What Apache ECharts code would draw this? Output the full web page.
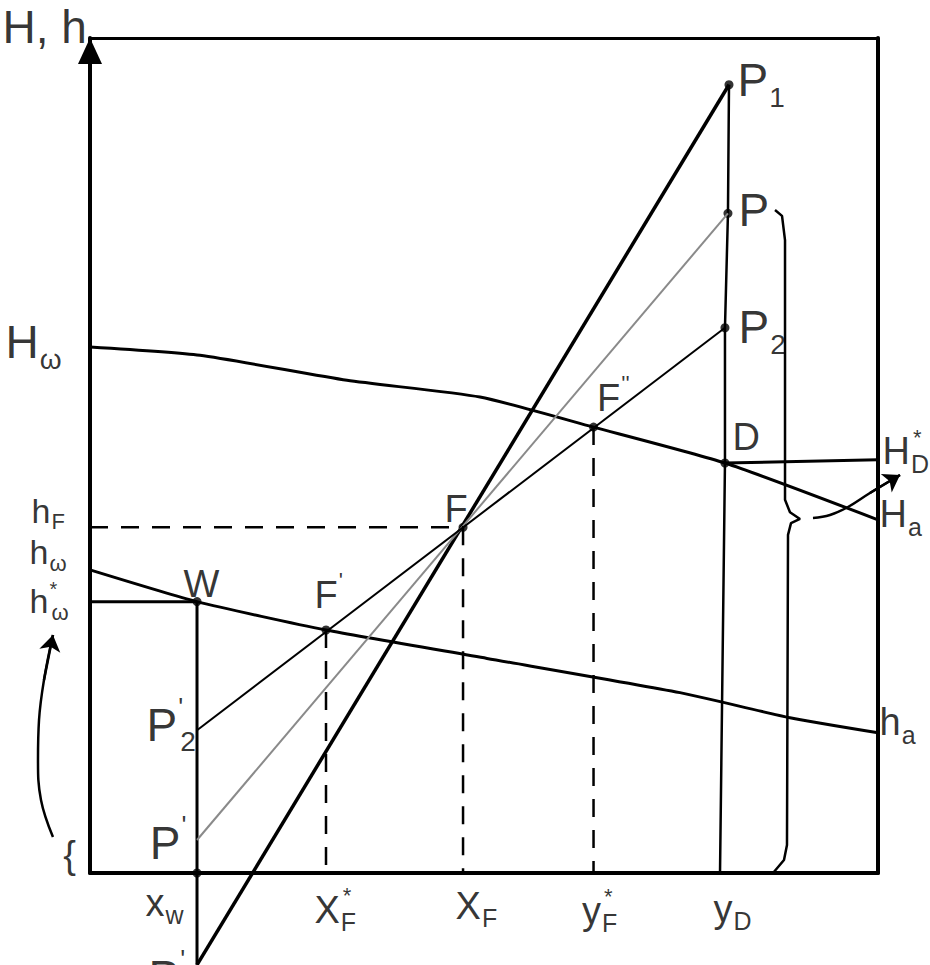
<!DOCTYPE html>
<html><head><meta charset="utf-8">
<script src="https://cdn.jsdelivr.net/npm/echarts@6/dist/echarts.min.js"></script>
<style>html,body{margin:0;padding:0;background:#fff}#c{width:930px;height:965px}</style>
</head><body><div id="c"></div>
<script>
// ---------- data (x = composition 0..1, H/h = enthalpy, top of frame = 100) ----------
const vaporX  = [0, 0.1396, 0.3261, 0.4949, 0.6390, 0.8058, 1.0];
const vaporH  = [63.0, 62.0, 59.0, 57.0, 53.4, 49.1, 42.3];
const liquidX = [0, 0.1358, 0.2995, 0.5038, 0.7487, 0.8883, 1.0];
const liquidH = [36.3, 32.5, 29.1, 25.7, 21.6, 18.6, 16.8];
const pointNames = ['P1', 'P', 'P2', 'D', 'F2', 'F', 'F1', 'W', 'P2p', 'Pp', 'P1p'];
const pointX = [0.8109, 0.8096, 0.8058, 0.8058, 0.6390, 0.4734, 0.2995, 0.1358, 0.1358, 0.1358, 0.1358];
const pointH = [94.4, 79.0, 65.3, 49.1, 53.4, 41.4, 29.1, 32.5, 17.1, 3.95, -11.0];
const xTickValues = [0.1358, 0.2995, 0.4734, 0.6390, 0.7995];
const xTickLabels = ['x{s|w}', 'X{z|F}{u|*}', 'X{s|F}', 'y{z|F}{u|*}', 'y{s|D}'];
const hTickValues = [63.0, 41.4, 36.3, 32.5];
const hTickLabels = ['H{s|ω}', 'h{s|F}', 'h{s|ω}', 'h{zu|*}{s|ω}'];
const hDStar = 49.5;
const braceX = [0.8693, 0.8782, 0.8820, 0.8820, 0.8883, 0.9010, 0.8896, 0.8858, 0.8845, 0.8807, 0.8668];
const braceH = [79.4, 78.7, 75.8, 44.7, 43.2, 42.4, 41.9, 40.5, 3.35, 1.56, 0];
const rightArrowX = [0.9175, 0.9391, 0.9619, 0.9898, 1.0279];
const rightArrowH = [42.51, 42.87, 43.83, 45.51, 47.66];
const leftArrowX = [-0.047, -0.0622, -0.0660, -0.0647, -0.0584, -0.047];
const leftArrowH = [4.31, 8.74, 13.53, 18.32, 23.11, 28.50];

// ---------- build ----------
const P = {};
pointNames.forEach((n, i) => { P[n] = [pointX[i], pointH[i]]; });
const zip = (xs, ys) => xs.map((x, i) => [x, ys[i]]);
const FONT = "'Liberation Sans','Arimo',sans-serif";

// text sizes: [main, mainLineHeight, sub, sup, subPadTop]
const SIZES = {
  big:   [46, 62, 28, 26, 34],
  mid:   [38, 50, 25, 22, 25],
  small: [34, 44, 22, 20, 22]
};
function richFor(sz) {
  const [, , fs, us, pad] = SIZES[sz];
  const base = {fontFamily: FONT, fontSize: fs, lineHeight: fs, verticalAlign: 'top', color: '#000', align: 'left'};
  const sup = Object.assign({}, base, {fontSize: us, lineHeight: us, padding: [0, 0, 0, 1]});
  return {
    s: Object.assign({}, base, {padding: [pad, 0, 0, 1]}),
    z: Object.assign({}, base, {padding: [pad, 0, 0, 1], width: 1}),
    u: sup,
    zu: Object.assign({}, sup, {width: 1})
  };
}

// [text, anchor, dx, dy, align, size]
const labelDefs = [
  ['P{s|1}', P.P1, 9, -4, 'left', 'big'],
  ['P', P.P, 11, -3, 'left', 'big'],
  ['P{s|2}', P.P2, 14, 0, 'left', 'big'],
  ['D', P.D, 8, -26, 'left', 'mid'],
  ["F{u|''}", P.F2, 4, -29, 'left', 'mid'],
  ['F', P.F, -18, -18, 'left', 'mid'],
  ["F{u|'}", P.F1, -11, -35, 'left', 'mid'],
  ['W', P.W, -13, -17, 'left', 'mid'],
  ["P{zu|'}{s|2}", P.P2p, -50, -5, 'left', 'big'],
  ["P{u|'}", P.Pp, -10, 3, 'right', 'big'],
  ["P{zu|'}{s|1}", P.P1p, -48, 13, 'left', 'big'],
  ['H{z|D}{u|*}', [1.0, hDStar], 5, -8, 'left', 'mid'],
  ['H{s|a}', [vaporX[vaporX.length - 1], vaporH[vaporH.length - 1]], 2, -5, 'left', 'mid'],
  ['h{s|a}', [liquidX[liquidX.length - 1], liquidH[liquidH.length - 1]], 2, -10, 'left', 'mid'],
  ['H, h', [0, 100], -87, -11, 'left', 'big'],
  ['{', [0, 0], -20, -18, 'center', 'mid']
];
const yOff = [[-84, -4, 'big'], [-58, -16, 'small'], [-60, -17, 'small'], [-60, 0, 'small']];
hTickValues.forEach((v, i) => labelDefs.push([hTickLabels[i], [0, v], yOff[i][0], yOff[i][1], 'left', yOff[i][2]]));
const xOff = [[-51, 30], [-11, 37], [-7, 33], [-11, 38], [-6, 36]];
xTickValues.forEach((v, i) => labelDefs.push([xTickLabels[i], [v, 0], xOff[i][0], xOff[i][1], 'left', 'mid']));

const labelData = labelDefs.map(d => ({
  value: d[1],
  label: {
    show: true, formatter: d[0], position: [d[2], d[3]], align: d[4], verticalAlign: 'middle',
    fontFamily: FONT, fontSize: SIZES[d[5]][0], lineHeight: SIZES[d[5]][1], color: '#000',
    rich: richFor(d[5])
  }
}));

function line(data, width, color, extra) {
  return Object.assign({
    type: 'line', xAxisIndex: 2, yAxisIndex: 2, data: data, symbol: 'none', clip: false,
    silent: true, lineStyle: {width: width, color: color || '#000'}
  }, extra || {});
}
function dashed(data) {
  return line(data, 2.5, '#000', {lineStyle: {width: 2.5, color: '#000', type: [18, 13]}});
}
function curvedArrow(pts) {
  const n = pts.length;
  return line(pts, 2.5, '#000', {
    smooth: 0.4,
    markLine: {
      silent: true, symbol: ['none', 'arrow'], symbolSize: 16, label: {show: false},
      lineStyle: {color: '#000', width: 2.5, type: 'solid'},
      data: [[{coord: pts[n - 2]}, {coord: pts[n - 1]}]]
    }
  });
}

const series = [
  line(zip(vaporX, vaporH), 3, '#000', {smooth: 0.2}),
  line(zip(liquidX, liquidH), 3, '#000', {smooth: 0.2}),
  line([P.P1, P.P, P.P2, P.D, [xTickValues[4], 0]], 2.5),
  line([P.W, P.P2p, P.Pp, [xTickValues[0], 0], P.P1p], 3),
  line([[0, P.W[1]], P.W], 3),
  line([P.D, [1.0, hDStar]], 3),
  line([P.P1, P.P1p], 3.5),
  line([P.P, P.Pp], 2, '#8a8a8a'),
  line([P.P2, P.P2p], 2),
  dashed([[0, P.F[1]], P.F]),
  dashed([P.F1, [xTickValues[1], 0]]),
  dashed([P.F, [xTickValues[2], 0]]),
  dashed([P.F2, [xTickValues[3], 0]]),
  line(zip(braceX, braceH), 2.5),
  curvedArrow(zip(rightArrowX, rightArrowH)),
  curvedArrow(zip(leftArrowX, leftArrowH)),
  {
    type: 'scatter', xAxisIndex: 2, yAxisIndex: 2, symbolSize: 9, silent: true, clip: false,
    itemStyle: {color: '#000'},
    data: [P.P1, P.P, P.P2, P.D, P.F2, P.F, P.F1, P.W, [xTickValues[0], 0]]
  },
  {
    type: 'scatter', xAxisIndex: 2, yAxisIndex: 2, symbolSize: 1, silent: true, clip: false,
    itemStyle: {color: 'rgba(0,0,0,0)'}, data: labelData
  }
];

const hidden = {axisTick: {show: false}, axisLabel: {show: false}, splitLine: {show: false}};
const frameLine = w => ({show: true, onZero: false, lineStyle: {color: '#000', width: w}});

const option = {
  animation: false,
  backgroundColor: '#fff',
  grid: [
    {left: 90, right: 52, top: 38, bottom: 92},
    {left: 0, right: 0, top: 38, bottom: 0}
  ],
  xAxis: [
    Object.assign({type: 'value', gridIndex: 0, position: 'bottom', min: 0, max: 1, axisLine: frameLine(4)}, hidden),
    Object.assign({type: 'value', gridIndex: 0, position: 'top', min: 0, max: 1, axisLine: frameLine(3)}, hidden),
    Object.assign({type: 'value', gridIndex: 1, min: -90 / 788, max: 1 + 52 / 788, axisLine: {show: false}}, hidden)
  ],
  yAxis: [
    Object.assign({type: 'value', gridIndex: 0, position: 'left', min: 0, max: 100,
      axisLine: {show: true, onZero: false, lineStyle: {color: '#000', width: 4},
        symbol: ['none', 'triangle'], symbolSize: [24, 26], symbolOffset: [0, -13]}}, hidden),
    Object.assign({type: 'value', gridIndex: 0, position: 'right', min: 0, max: 100, axisLine: frameLine(4)}, hidden),
    Object.assign({type: 'value', gridIndex: 1, min: -92 / 8.35, max: 100, axisLine: {show: false}}, hidden)
  ],
  series: series
};

const chart = echarts.init(document.getElementById('c'), null, {renderer: 'svg'});
chart.setOption(option);
</script>
</body></html>
